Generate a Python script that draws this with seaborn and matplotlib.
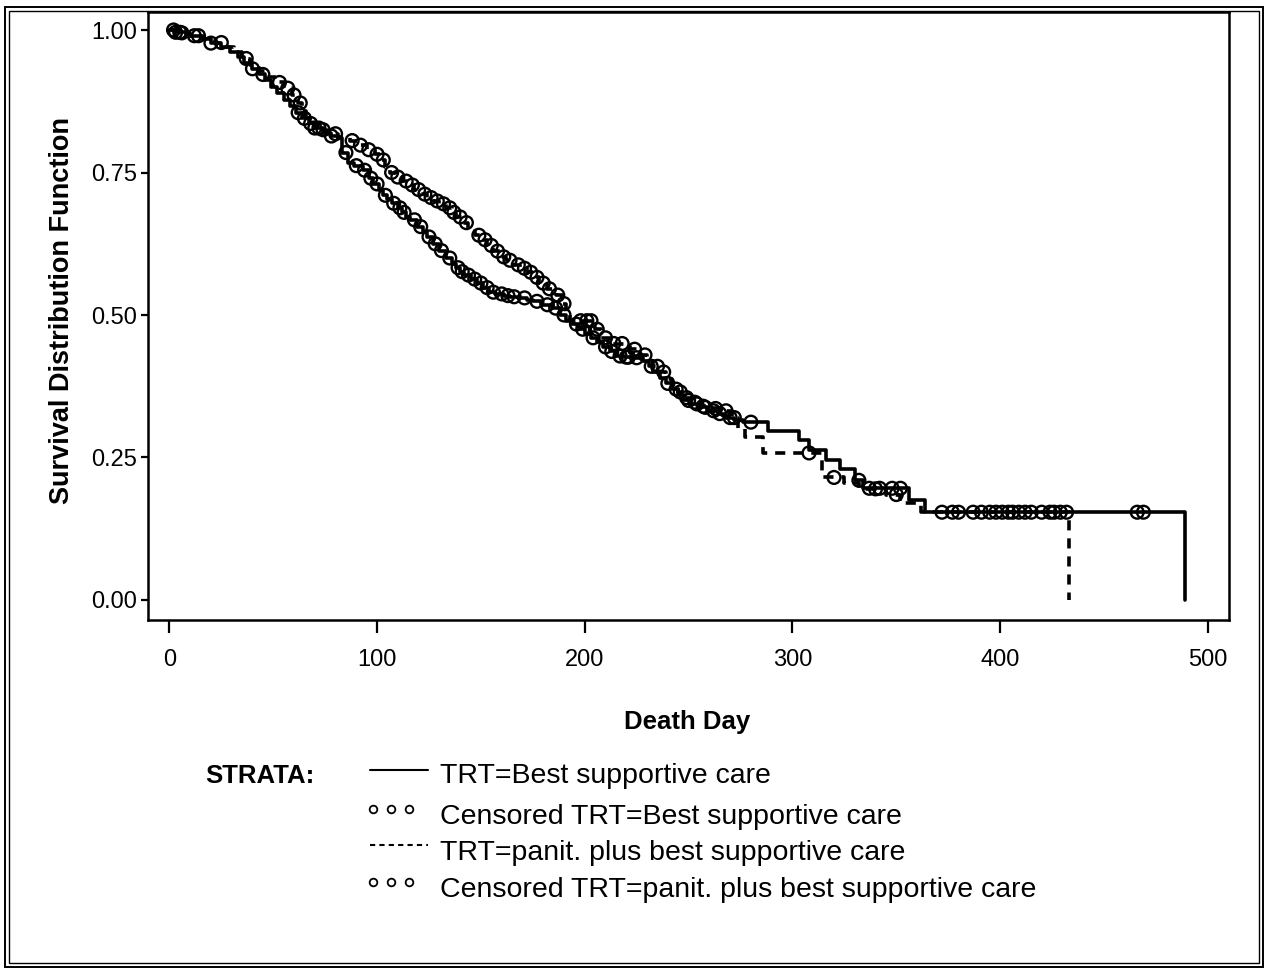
import numpy as np
import pandas as pd
import matplotlib
matplotlib.use("Agg")
import matplotlib.pyplot as plt
from matplotlib.lines import Line2D
from matplotlib.patches import Rectangle
import seaborn as sns

# ---------------- data ----------------
bsc_t = [0, 3, 9, 15, 20, 25, 29, 33, 36, 40, 43, 46, 49, 52, 55, 58, 61, 64, 67, 70,
         74, 78, 81, 83, 86, 89, 93, 96, 98, 101, 103, 105, 107, 110, 112, 114, 116, 119,
         122, 124, 127, 130, 133, 136, 138, 140, 142, 145, 148, 151, 154, 157, 161, 164,
         168, 172, 175, 179, 184, 188, 191, 194, 197, 200, 203, 206, 209, 212, 215, 219,
         224, 228, 231, 233, 236, 239, 242, 245, 248, 251, 255, 259, 264, 268, 272, 276,
         288, 303, 308, 316, 323, 330, 334, 356, 364, 489]
bsc_s = [1.0, 0.996, 0.99, 0.984, 0.977, 0.97, 0.962, 0.952, 0.942, 0.932, 0.922, 0.912,
         0.90, 0.89, 0.878, 0.866, 0.855, 0.845, 0.836, 0.828, 0.82, 0.814, 0.81, 0.785,
         0.767, 0.762, 0.754, 0.74, 0.73, 0.72, 0.71, 0.703, 0.696, 0.688, 0.68, 0.672,
         0.667, 0.655, 0.645, 0.637, 0.625, 0.613, 0.60, 0.59, 0.583, 0.576, 0.57, 0.563,
         0.556, 0.548, 0.54, 0.537, 0.534, 0.532, 0.53, 0.527, 0.524, 0.518, 0.512, 0.50,
         0.49, 0.484, 0.475, 0.467, 0.46, 0.452, 0.444, 0.436, 0.428, 0.426, 0.425, 0.42,
         0.41, 0.40, 0.39, 0.38, 0.37, 0.36, 0.35, 0.344, 0.338, 0.332, 0.327, 0.32, 0.316,
         0.312, 0.297, 0.281, 0.263, 0.246, 0.23, 0.21, 0.196, 0.175, 0.154, 0.0]
bsc_cens = [3, 5, 12, 20, 40, 45, 62, 65, 68, 70, 72, 78, 85, 90, 94, 97, 100, 104, 108,
            111, 113, 118, 121, 125, 128, 131, 135, 139, 141, 144, 147, 150, 153, 156, 160,
            163, 166, 171, 177, 182, 186, 190, 196, 199, 204, 210, 213, 217, 220, 221, 225,
            232, 240, 244, 250, 254, 258, 262, 265, 270, 280, 332, 337, 342, 348, 352, 377,
            380, 387, 398, 406, 412, 426, 466, 469]

pan_t = [0, 4, 10, 16, 22, 27, 31, 35, 39, 43, 47, 51, 55, 59, 62, 64, 66, 69, 72, 76,
         81, 87, 91, 95, 99, 102, 104, 106, 109, 112, 115, 118, 121, 124, 127, 130, 133,
         136, 138, 141, 144, 147, 150, 153, 156, 159, 162, 166, 169, 172, 175, 178, 182,
         186, 189, 191, 193, 205, 208, 213, 222, 226, 230, 233, 236, 239, 242, 245, 248,
         251, 255, 260, 266, 271, 274, 277, 286, 314, 325, 332, 345, 352, 362, 433]
pan_s = [1.0, 0.995, 0.99, 0.985, 0.978, 0.97, 0.962, 0.95, 0.938, 0.928, 0.918, 0.908,
         0.898, 0.886, 0.872, 0.858, 0.845, 0.835, 0.825, 0.818, 0.812, 0.806, 0.798, 0.79,
         0.782, 0.772, 0.76, 0.75, 0.742, 0.735, 0.728, 0.72, 0.712, 0.706, 0.70, 0.695,
         0.688, 0.68, 0.672, 0.662, 0.652, 0.64, 0.632, 0.622, 0.612, 0.602, 0.596, 0.588,
         0.582, 0.575, 0.566, 0.556, 0.546, 0.535, 0.52, 0.505, 0.49, 0.475, 0.46, 0.45,
         0.44, 0.43, 0.42, 0.41, 0.40, 0.388, 0.376, 0.365, 0.355, 0.347, 0.34, 0.336,
         0.332, 0.32, 0.30, 0.286, 0.258, 0.215, 0.205, 0.195, 0.185, 0.17, 0.154, 0.0]
pan_cens = [2, 6, 14, 25, 37, 53, 57, 60, 63, 74, 80, 88, 92, 96, 100, 103, 107, 110, 114,
            117, 120, 123, 126, 129, 132, 135, 137, 140, 143, 149, 152, 155, 158, 161, 164,
            168, 171, 174, 177, 180, 183, 187, 190, 198, 201, 203, 206, 210, 214, 218, 224,
            229, 235, 238, 246, 249, 253, 257, 263, 268, 272, 308, 320, 340, 350, 372, 391,
            395, 401, 404, 409, 415, 420, 424, 429, 432]

groups = ["TRT=Best supportive care", "TRT=panit. plus best supportive care"]
x_ticks = [0, 100, 200, 300, 400, 500]
y_ticks = [0.0, 0.25, 0.50, 0.75, 1.00]
y_ticklabels = ["0.00", "0.25", "0.50", "0.75", "1.00"]

# ---------------- tables ----------------
curves = pd.concat([
    pd.DataFrame({"day": bsc_t, "surv": bsc_s, "group": groups[0]}),
    pd.DataFrame({"day": pan_t, "surv": pan_s, "group": groups[1]}),
], ignore_index=True)


def censor_frame(t, s, c, g):
    t = np.asarray(t, float)
    s = np.asarray(s, float)
    c = np.asarray(c, float)
    idx = np.searchsorted(t, c, side="right") - 1
    return pd.DataFrame({"day": c, "surv": s[idx], "group": g})


cens = pd.concat([
    censor_frame(bsc_t, bsc_s, bsc_cens, groups[0]),
    censor_frame(pan_t, pan_s, pan_cens, groups[1]),
], ignore_index=True)

# ---------------- style ----------------
sns.set_theme(style="white")
FONT = ["Liberation Sans", "DejaVu Sans"]
plt.rcParams["font.family"] = FONT

W, H = 1269, 973
fig = plt.figure(figsize=(W / 100, H / 100), dpi=100)
fig.patch.set_facecolor("white")

# axes frame: x 148..1229 px, y 12..620 px
ax = fig.add_axes([148 / W, 1 - 620 / H, (1229 - 148) / W, (620 - 12) / H])
ax.set_facecolor("white")

sns.lineplot(data=curves, x="day", y="surv", style="group", style_order=groups,
             dashes={groups[0]: "", groups[1]: (2.8, 2.2)}, color="black",
             drawstyle="steps-post", estimator=None, sort=False, linewidth=2.6,
             legend=False, ax=ax)
sns.scatterplot(data=cens, x="day", y="surv", marker="o", s=85,
                facecolor="none", edgecolor="black", linewidth=1.7,
                legend=False, ax=ax)

ax.set_xlim(-10.3, 510.2)
ax.set_ylim(-0.0351, 1.0316)
ax.set_xticks(x_ticks)
ax.set_yticks(y_ticks)
ax.set_yticklabels(y_ticklabels)
for sp in ax.spines.values():
    sp.set_visible(True)
    sp.set_color("black")
    sp.set_linewidth(1.8)

ax.tick_params(axis="x", direction="out", length=9, width=1.6, pad=12,
               labelsize=17, colors="black", bottom=True)
ax.tick_params(axis="y", direction="out", length=5, width=1.6, pad=3,
               labelsize=17, colors="black", left=True)

ax.set_xlabel("Death Day", fontsize=18.5, fontweight="bold", color="black")
ax.set_ylabel("Survival Distribution Function", fontsize=19.5, fontweight="bold",
              color="black")
ax.xaxis.set_label_coords((687 - 148) / (1229 - 148), (620 - 722) / (620 - 12))
ax.xaxis.label.set_va("center")
ax.yaxis.set_label_coords((62 - 148) / (1229 - 148), (620 - 310) / (620 - 12))
ax.yaxis.label.set_va("center")


# ---------------- manual legend (figure pixel coordinates) ----------------
def fx(px):
    return px / W


def fy(py):
    return 1 - py / H


fig.text(fx(205), fy(776), "STRATA:", fontsize=18.5, fontweight="bold",
         va="center", ha="left", color="black")
rows = [776, 817, 853, 890]
labels = ["TRT=Best supportive care", "Censored TRT=Best supportive care",
          "TRT=panit. plus best supportive care",
          "Censored TRT=panit. plus best supportive care"]
for r, lab in zip(rows, labels):
    fig.text(fx(440), fy(r), lab, fontsize=20.5, va="center", ha="left",
             color="black")

fig.add_artist(Line2D([fx(370), fx(428)], [fy(770), fy(770)], color="black",
                      lw=1.5, transform=fig.transFigure))
fig.add_artist(Line2D([fx(370), fx(428)], [fy(845), fy(845)], color="black",
                      lw=1.5, ls=(0, (2.5, 2)), transform=fig.transFigure))
for r in (809, 882):
    fig.add_artist(Line2D([fx(373), fx(391), fx(409)], [fy(r)] * 3, ls="none",
                          marker="o", ms=5.5, mfc="none", mec="black", mew=1.3,
                          transform=fig.transFigure))

# outer double border
fig.add_artist(Rectangle((fx(5), fy(967)), fx(1263) - fx(5), fy(7) - fy(967),
                         fill=False, ec="black", lw=1.4, transform=fig.transFigure))
fig.add_artist(Rectangle((fx(9), fy(963)), fx(1259) - fx(9), fy(11) - fy(963),
                         fill=False, ec="black", lw=1.0, transform=fig.transFigure))

fig.savefig("out.png", dpi=100)
